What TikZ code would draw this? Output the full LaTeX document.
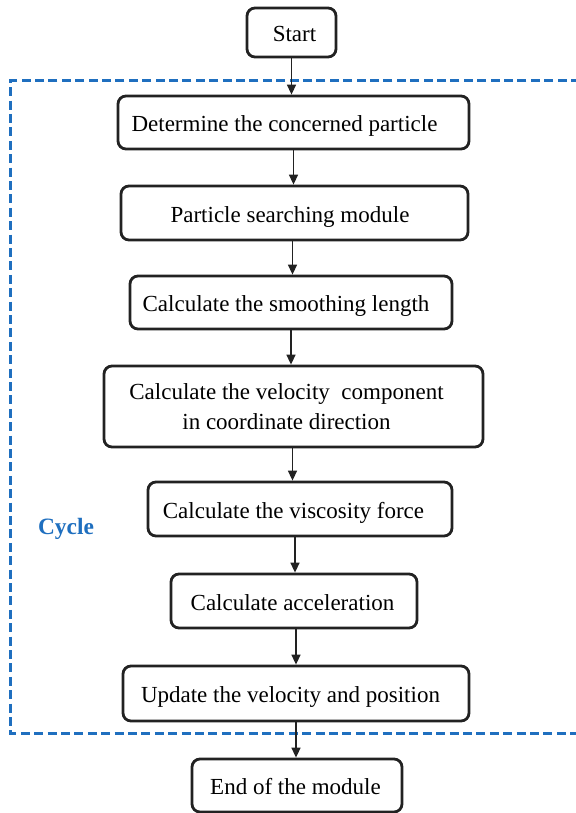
\documentclass[tikz,border=0pt]{standalone}
\usepackage{fontspec}
\setmainfont{Liberation Serif}
\usepackage{xcolor}
\definecolor{CycleBlue}{HTML}{1F6FBF}
\definecolor{BoxInk}{HTML}{222222}
\usetikzlibrary{positioning, arrows.meta}

\begin{document}
\begin{tikzpicture}[
    x=0.5pt, y=-0.5pt,
    box/.style={draw=BoxInk, line width=1.4pt, rounded corners=4pt, align=center,
                font=\fontsize{11.5}{15}\selectfont, inner sep=2pt},
    onebox/.style={box, text height=11pt, text depth=2pt},
    arr/.style={-{Triangle[length=5pt,width=4.5pt]}, line width=0.75pt, BoxInk},
    loopframe/.style={draw=CycleBlue, line width=1.5pt, dash pattern=on 4.5pt off 2.2pt},
    lab/.style={font=\fontsize{11.7}{14}\selectfont\bfseries, text=CycleBlue}
]
\useasboundingbox (0,0) rectangle (575,813);
% cycle frame, open on the right
\draw[loopframe] (580,81) -- (10,81) -- (10,733) -- (580,733);
\node[lab] (cyc) at (66,529) {Cycle};
% steps
\node[onebox, minimum width=44.5pt, minimum height=24.5pt] (start) at (291.5,32.5) {\hspace*{3pt}Start};
\node[onebox, minimum width=175.5pt, minimum height=26.5pt] (det) at (293.5,122.5) {Determine the concerned particle\hspace*{9pt}};
\node[onebox, minimum width=173.5pt, minimum height=27pt] (search) at (294.5,213) {Particle searching module\hspace*{4.5pt}};
\node[onebox, minimum width=161pt, minimum height=26.5pt] (smooth) at (291,302.5) {Calculate the smoothing length\hspace*{5pt}};
\node[box, minimum width=189.5pt, minimum height=40.5pt] (velo) at (293.5,406.5) {Calculate the velocity\ \ component\hspace*{7pt}\\in coordinate direction\hspace*{7pt}};
\node[onebox, minimum width=152pt, minimum height=27pt] (visc) at (300,509) {Calculate the viscosity force\hspace*{6.5pt}};
\node[onebox, minimum width=123pt, minimum height=27pt] (accel) at (294,601) {Calculate acceleration\hspace*{1.5pt}};
\node[onebox, minimum width=173pt, minimum height=27.5pt] (upd) at (296,693.5) {Update the velocity and position\hspace*{5.5pt}};
\node[onebox, minimum width=105pt, minimum height=26.5pt] (fin) at (297,785.5) {End of the module\hspace*{1.5pt}};
% arrows
\draw[arr] (start) -- (start |- det.north);
\draw[arr] (det) -- (det |- search.north);
\draw[arr] ([xshift=-1pt]search.south) -- ([xshift=-1pt]search.south |- smooth.north);
\draw[arr] (smooth) -- (smooth |- velo.north);
\draw[arr] ([xshift=-0.5pt]velo.south) -- ([xshift=-0.5pt]velo.south |- visc.north);
\draw[arr] ([xshift=-2.5pt]visc.south) -- ([xshift=-2.5pt]visc.south |- accel.north);
\draw[arr] ([xshift=1pt]accel.south) -- ([xshift=1pt]accel.south |- upd.north);
\draw[arr] (upd) -- (upd |- fin.north);
\end{tikzpicture}
\end{document}
